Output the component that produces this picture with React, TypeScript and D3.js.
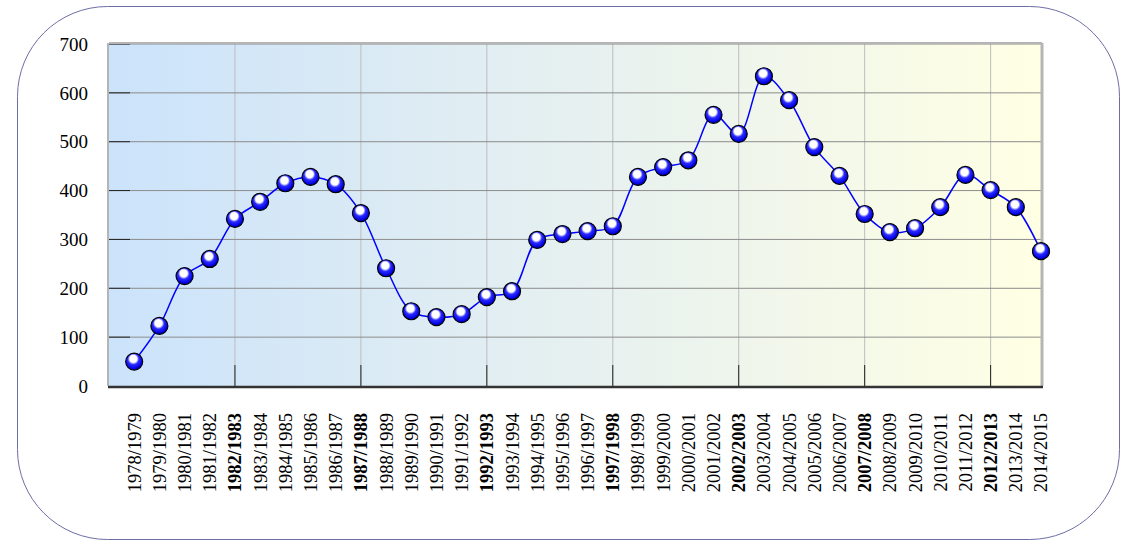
import React from "react";
import * as d3 from "d3";

const categories = [
  "1978/1979","1979/1980","1980/1981","1981/1982","1982/1983","1983/1984","1984/1985","1985/1986","1986/1987","1987/1988",
  "1988/1989","1989/1990","1990/1991","1991/1992","1992/1993","1993/1994","1994/1995","1995/1996","1996/1997","1997/1998",
  "1998/1999","1999/2000","2000/2001","2001/2002","2002/2003","2003/2004","2004/2005","2005/2006","2006/2007","2007/2008",
  "2008/2009","2009/2010","2010/2011","2011/2012","2012/2013","2013/2014","2014/2015",
];
const values = [
  50, 123, 225, 260, 342, 377, 415, 428, 413, 354,
  241, 153, 141, 147, 182, 194, 299, 311, 317, 327,
  428, 448, 462, 555, 516, 634, 585, 489, 430, 352,
  315, 323, 366, 432, 401, 366, 276,
];
const yTicks = [0, 100, 200, 300, 400, 500, 600, 700];

export default function App() {
  const W = 1126, H = 545;
  const left = 109, right = 1041, top = 44, bottom = 386;
  const x = d3.scaleLinear().domain([-1, categories.length - 1]).range([left, right]);
  const y = d3.scaleLinear().domain([0, 700]).range([bottom, top]);
  const line = d3.line<number>().x((_, i) => x(i)).y(d => y(d)).curve(d3.curveCatmullRom.alpha(0.5));
  const major = categories.map((_, i) => i).filter(i => i % 5 === 4);
  const font = "'Times New Roman', 'Liberation Serif', serif";

  return (
    <svg width={W} height={H} style={{ position: "absolute", left: 0, top: 0 }}>
      <defs>
        <linearGradient id="bg" x1="0" x2="1" y1="0" y2="0">
          <stop offset="0" stopColor="#cbe3fb" />
          <stop offset="0.5" stopColor="#e6f0f0" />
          <stop offset="1" stopColor="#ffffe4" />
        </linearGradient>
        <radialGradient id="ball" cx="0.45" cy="0.4" r="0.6" fx="0.45" fy="0.3">
          <stop offset="0" stopColor="#ffffff" />
          <stop offset="0.35" stopColor="#ffffff" />
          <stop offset="0.55" stopColor="#2a2aff" />
          <stop offset="0.9" stopColor="#0000e0" />
          <stop offset="1" stopColor="#000090" />
        </radialGradient>
      </defs>
      <rect x={17.5} y={6.5} width={1102} height={533} rx={90} ry={90} fill="#fff" stroke="#6e6ea6" strokeWidth={1} />
      <rect x={left} y={top} width={right - left} height={bottom - top} fill="url(#bg)" />
      {major.map(i => (
        <line key={"v" + i} x1={x(i)} x2={x(i)} y1={top} y2={bottom} stroke="#bdbdbd" strokeWidth={1} />
      ))}
      {yTicks.filter(t => t > 0).map(t => (
        <line key={"h" + t} x1={left} x2={right} y1={y(t)} y2={y(t)} stroke="#8c8c8c" strokeWidth={1} />
      ))}
      {yTicks.filter(t => t > 0).map(t => (
        <line key={"yt" + t} x1={left} x2={left + 21} y1={y(t)} y2={y(t)} stroke="#222" strokeWidth={1} />
      ))}
      {major.map(i => (
        <line key={"xt" + i} x1={x(i)} x2={x(i)} y1={bottom - 21} y2={bottom} stroke="#222" strokeWidth={1} />
      ))}
      <line x1={left} x2={right + 1} y1={top - 1} y2={top - 1} stroke="#b5b5b5" strokeWidth={2} />
      <line x1={right + 1} x2={right + 1} y1={top - 1} y2={bottom} stroke="#b5b5b5" strokeWidth={3} />
      <line x1={left - 1} x2={left - 1} y1={top - 1} y2={bottom} stroke="#b5b5b5" strokeWidth={2} />
      <line x1={left - 1} x2={right + 2} y1={bottom + 1} y2={bottom + 1} stroke="#333" strokeWidth={2.5} />
      {yTicks.map(t => (
        <text key={"yl" + t} x={88} y={y(t)} dy="0.35em" textAnchor="end" fontFamily={font} fontSize={19} fill="#000">{t}</text>
      ))}
      {categories.map((c, i) => (
        <text key={"xl" + i} transform={`translate(${x(i)},413) rotate(-90)`} dy="0.35em" textAnchor="end"
          fontFamily={font} fontSize={18.5} fontWeight={i % 5 === 4 ? "bold" : "normal"} fill="#000">{c}</text>
      ))}
      <path d={line(values) || ""} fill="none" stroke="#0000ff" strokeWidth={1.5} />
      {values.map((v, i) => (
        <circle key={"p" + i} cx={x(i)} cy={y(v)} r={8.5} fill="url(#ball)" stroke="#000" strokeWidth={1.2} />
      ))}
    </svg>
  );
}
